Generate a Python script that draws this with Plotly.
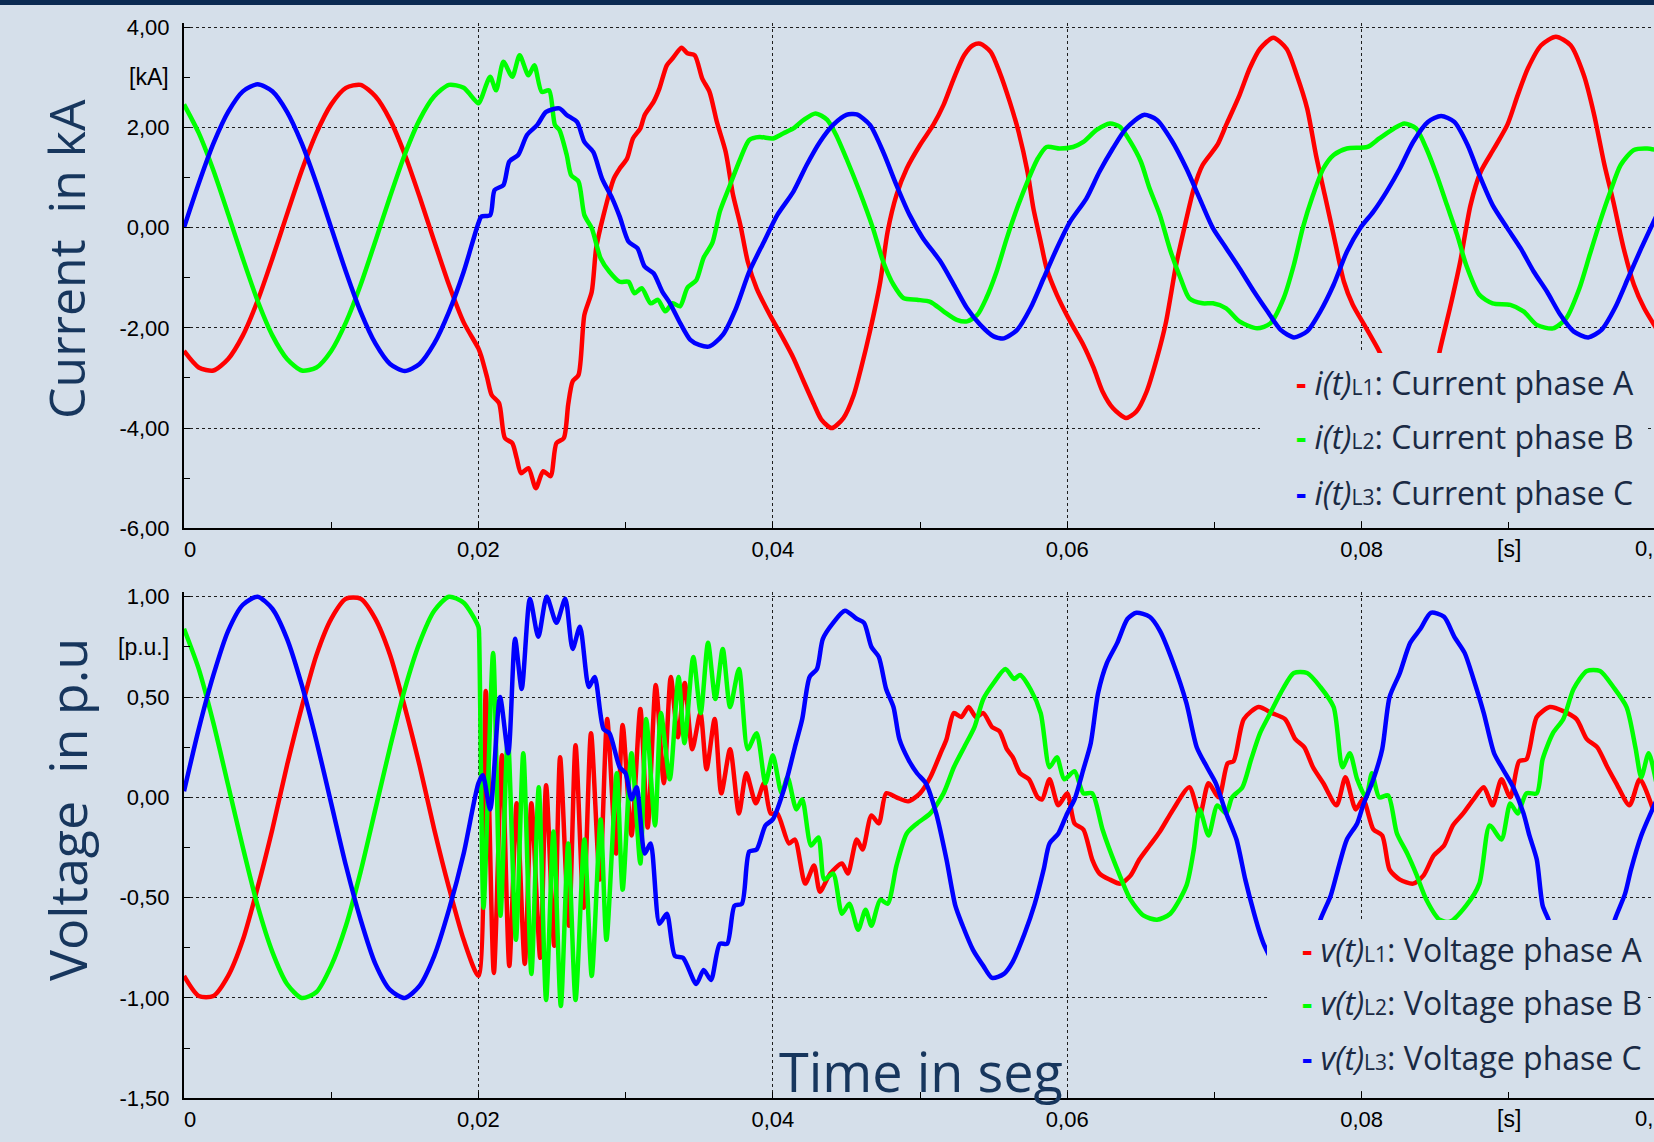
import plotly.graph_objects as go

# ---------------- DATA (time in ms) ----------------
PRE_T = [0, 1, 2, 3, 4, 5, 6, 7, 8, 9, 10, 11, 12, 13, 14, 15, 16, 17, 18, 19]

# Currents [kA]
IA_T = PRE_T + [20.0, 20.2, 20.6, 20.9, 21.4, 21.8, 22.3, 22.6, 22.9, 23.4,
                23.9, 24.4, 24.9, 25.3, 25.8, 26.1, 26.4, 26.8, 27.2, 27.7,
                28.0, 28.5, 29.2, 29.6, 30.1, 30.5, 31.0, 31.3, 31.9, 32.3,
                32.8, 33.2, 33.8, 34.2, 34.7, 35.2, 35.7, 36.2, 36.8, 37.3,
                37.8, 38.3, 38.9, 39.8,
                40.7, 41.4, 42.1, 42.8, 43.3, 44.0, 44.8, 45.5, 46.0, 46.6,
                47.3, 47.8, 48.4, 49.1, 50.0, 50.9, 51.6, 52.3, 53.0, 53.6,
                54.1, 54.8, 55.4, 56.1, 56.7, 57.3, 57.7, 58.2, 58.6, 59.3,
                60.2, 61.1, 61.8, 62.4, 63.1, 64.0, 64.7, 65.4, 66.1, 66.7,
                67.4, 68.0, 68.6, 69.2, 70.2, 70.8, 71.7, 72.4, 73.1, 74.0,
                74.9, 75.6, 76.3, 76.9, 77.5, 78.1, 78.8, 79.4,
                80.3, 81.2, 82.0, 83.0, 84.0, 84.7, 85.3, 86.0, 86.7, 87.4,
                88.1, 89.0, 89.9, 90.6, 91.3, 92.2, 93.2, 94.2, 95.1, 95.8,
                96.5, 97.1, 97.8, 98.5, 99.2, 100.0]
IA_V = [-2.46, -2.79, -2.85, -2.62, -2.15, -1.46, -0.62, 0.27, 1.14, 1.89,
        2.46, 2.79, 2.85, 2.62, 2.15, 1.46, 0.62, -0.27, -1.14, -1.89,
        -2.41, -2.57, -3.0, -3.34, -3.50, -4.2, -4.3, -4.6, -4.9, -4.8,
        -5.2, -4.86, -4.96, -4.3, -4.2, -3.53, -3.07, -2.94, -1.74, -1.28,
        -0.41, 0.25, 0.98, 1.18, 1.38, 1.78, 1.98, 2.25, 2.51, 2.78,
        3.24, 3.38, 3.59, 3.48, 3.44, 2.98, 2.71, 2.11, 1.51, 0.65,
        0.05, -0.68, -1.21, -1.74,
        -2.21, -2.60, -3.07, -3.53, -3.83, -4.0, -3.80, -3.34, -2.80, -2.07,
        -1.08, -0.08, 0.65, 1.18, 1.65, 2.05, 2.45, 2.98, 3.44, 3.64,
        3.67, 3.51, 3.11, 2.51, 1.91, 1.12, 0.39, -0.28, -0.81, -1.34,
        -1.87, -2.34, -2.80, -3.27, -3.60, -3.80, -3.67, -3.27, -2.6, -1.9,
        -0.74, 0.05, 0.78, 1.25, 1.65, 2.05, 2.64, 3.18, 3.57, 3.79,
        3.57, 3.04, 2.38, 1.45, 0.65, -0.15, -1.08, -1.54,
        -2.0, -2.47, -2.95, -3.55, -3.85, -3.4, -2.47, -1.61, -0.68, 0.45,
        1.12, 1.58, 2.05, 2.64, 3.18, 3.64, 3.81, 3.64, 3.04, 2.25,
        1.25, 0.52, -0.41, -1.14, -1.61, -2.0]

IB_T = PRE_T + [20.0, 20.2, 20.8, 21.2, 21.7, 22.3, 22.8, 23.4, 23.8, 24.3,
                24.8, 25.2, 25.5, 26.0, 26.3, 26.8, 27.2, 27.7, 28.3, 28.9,
                29.6, 30.2, 30.6, 31.1, 31.7, 32.2, 32.7, 33.2, 33.7, 34.2,
                34.8, 35.3, 35.9, 36.4, 37.0, 37.8, 38.4, 39.1,
                40.0, 40.7, 41.4, 42.1, 42.9, 43.7, 44.3, 45.0, 45.9, 46.8,
                47.5, 48.2, 48.9, 49.8, 50.7, 51.6, 52.5, 53.2, 53.9, 54.5,
                55.2, 55.9, 56.6, 57.3, 58.0, 58.6, 59.5,
                60.4, 61.1, 62.0, 62.9, 63.6, 64.3, 65.0, 65.6, 66.3, 67.0,
                67.7, 68.3, 69.2, 69.9, 70.8, 71.7, 72.9, 73.8, 74.7, 75.4,
                76.0, 76.7, 77.4, 78.1, 79.0,
                80.4, 81.2, 82.2, 82.9, 83.7, 84.4, 85.1, 85.8, 86.5, 87.1,
                88.0, 88.9, 90.1, 91.0, 91.9, 93.0, 93.9, 94.8, 95.5, 96.2,
                96.9, 97.6, 98.5, 99.4, 100.0]
IB_V = [2.46, 1.89, 1.14, 0.27, -0.62, -1.46, -2.15, -2.62, -2.85, -2.79,
        -2.46, -1.89, -1.14, -0.27, 0.62, 1.46, 2.15, 2.62, 2.85, 2.79,
        2.48, 2.58, 3.01, 2.74, 3.31, 3.01, 3.44, 3.04, 3.24, 2.71,
        2.74, 2.05, 1.95, 1.45, 1.05, 0.92, 0.25, -0.01, -0.61, -0.88,
        -1.08, -1.08, -1.31, -1.21, -1.51, -1.44, -1.67, -1.51, -1.57, -1.2,
        -1.05, -0.6, -0.3, 0.32, 0.78, 1.38, 1.75, 1.81,
        1.78, 1.88, 1.98, 2.15, 2.28, 2.15, 1.85, 1.38, 0.72, -0.01,
        -0.68, -1.14, -1.41, -1.44, -1.48, -1.67, -1.84, -1.87, -1.74, -1.41,
        -0.88, -0.21, 0.39, 0.92, 1.38, 1.61, 1.58,
        1.61, 1.71, 1.95, 2.08, 2.01, 1.71, 1.32, 0.78, 0.25, -0.45,
        -1.01, -1.41, -1.51, -1.51, -1.61, -1.87, -2.01, -1.91, -1.41, -0.74,
        -0.01, 0.65, 1.18, 1.45, 1.58,
        1.61, 1.78, 1.98, 2.08, 1.98, 1.58, 1.05, 0.45, -0.15, -0.74,
        -1.34, -1.51, -1.54, -1.67, -1.94, -2.01, -1.81, -1.21, -0.54, 0.12,
        0.72, 1.25, 1.55, 1.58, 1.55]

IC_T = PRE_T + [20.0, 20.2, 20.8, 21.1, 21.7, 22.1, 22.7, 23.3, 24.0, 24.6,
                25.5, 26.0, 26.7, 27.2, 27.8, 28.4, 29.1, 29.6, 30.2, 30.8,
                31.3, 31.9, 32.5, 33.0, 33.7, 34.4, 35.0, 35.7, 36.6, 37.5,
                38.4, 39.4,
                40.3, 41.4, 42.3, 43.2, 44.1, 45.0, 45.7, 46.6, 47.5, 48.4,
                49.3, 50.2, 51.4, 52.3, 53.2, 54.1, 55.0, 55.7, 56.6, 57.5,
                58.4, 59.3,
                60.2, 61.3, 62.2, 63.1, 64.0, 65.2, 66.1, 67.1, 68.1, 69.0,
                69.9, 70.8, 71.7, 72.7, 73.6, 74.5, 75.4, 76.3, 77.2, 78.1,
                79.0, 79.9,
                80.8, 81.7, 82.6, 83.5, 84.5, 85.4, 86.3, 87.2, 88.0, 88.9,
                89.9, 90.8, 91.7, 92.6, 93.5, 94.4, 95.4, 96.3, 97.2, 98.1,
                99.0, 100.0]
IC_V = [0.0, 0.88, 1.68, 2.31, 2.72, 2.86, 2.72, 2.31, 1.68, 0.88,
        0.0, -0.88, -1.68, -2.31, -2.72, -2.86, -2.72, -2.31, -1.68, -0.88,
        0.09, 0.22, 0.25, 0.75, 0.85, 1.32, 1.45, 1.85, 2.05, 2.31,
        2.38, 2.25, 2.11, 1.71, 1.51, 0.98, 0.58, 0.22, -0.28, -0.41,
        -0.78, -0.91, -1.28, -1.5, -1.9, -2.24, -2.34, -2.37, -2.14, -1.61,
        -0.88, -0.28,
        0.25, 0.72, 1.25, 1.71, 2.05, 2.25, 2.26, 2.05, 1.51, 0.85,
        0.25, -0.21, -0.68, -1.14, -1.61, -1.94, -2.17, -2.21, -2.04, -1.61,
        -1.01, -0.41,
        0.12, 0.58, 1.12, 1.58, 1.98, 2.25, 2.15, 1.74, 1.18, 0.58,
        -0.01, -0.41, -0.81, -1.28, -1.67, -2.04, -2.19, -2.07, -1.67, -1.14,
        -0.48, -0.01,
        0.32, 0.72, 1.18, 1.71, 2.11, 2.23, 2.11, 1.65, 1.05, 0.45,
        -0.01, -0.41, -0.88, -1.28, -1.74, -2.07, -2.19, -2.04, -1.61, -1.01,
        -0.41, 0.22]

# Voltages [p.u.]
VA_T = PRE_T + [20.0, 20.5, 21.05, 21.6, 22.1, 22.6, 23.15, 23.6, 24.2, 24.6,
                25.15, 25.55, 26.15, 26.6, 27.15, 27.65, 28.25, 28.75, 29.35, 29.8,
                30.4, 31.0, 31.5, 32.05, 32.6, 33.07, 33.55, 34.02, 34.53, 35.08,
                35.5, 36.05, 36.5, 37.1, 37.7, 38.2, 38.85, 39.4, 39.85,
                40.3, 41.1, 41.5, 42.2, 42.8, 43.2, 43.9, 44.7, 45.1, 45.7,
                46.1, 46.7, 47.2, 47.7, 48.4, 49.2, 50.0, 50.7, 51.4, 51.8,
                52.3, 52.8, 53.3, 53.8, 54.3, 54.9, 55.4, 55.9, 56.3, 56.8,
                57.4, 58.0, 58.3, 58.8, 59.4,
                60.0, 60.5, 61.1, 61.7, 62.2, 62.9, 63.6, 64.3, 64.9, 65.6,
                66.3, 67.2, 68.3, 69.0, 69.6, 70.3, 70.9, 71.3, 72.0, 73.0,
                73.9, 74.8, 75.5, 76.1, 76.7, 77.4, 78.3, 78.9, 79.6,
                80.1, 80.8, 81.4, 81.9, 82.6, 83.5, 84.2, 84.9, 85.6, 86.2,
                86.9, 87.6, 88.3, 88.9, 89.5, 90.1, 90.7, 91.2, 91.9, 92.8,
                93.7, 94.6, 95.3, 96.0, 96.7, 97.3, 98.2, 98.9, 99.8]
VA_V = [-0.89, -0.99, -0.99, -0.89, -0.71, -0.45, -0.16, 0.16, 0.45, 0.71,
        0.89, 0.99, 0.99, 0.89, 0.71, 0.45, 0.16, -0.16, -0.45, -0.71,
        -0.89, 0.53, -0.875, 0.21, -0.84, -0.03, -0.83, -0.03, -0.8, 0.06,
        -0.74, 0.2, -0.64, 0.26, -0.55, 0.32, -0.41, 0.39, -0.28, 0.36,
        -0.19, 0.44, -0.15, 0.56, 0.07, 0.6, 0.3, 0.57, 0.24, 0.42,
        0.14, 0.39, 0.02, 0.24, -0.08, 0.12, -0.03, 0.07, -0.08,
        -0.08, -0.23, -0.21, -0.43, -0.34, -0.47, -0.38, -0.33, -0.38, -0.21,
        -0.26, -0.09, -0.13, 0.02, 0.0, -0.02, 0.02, 0.10, 0.22, 0.29,
        0.42, 0.40, 0.45, 0.40, 0.42, 0.35, 0.33, 0.24, 0.20, 0.12,
        0.09, 0.0, -0.01, 0.09, -0.04,
        0.02, -0.13, -0.16, -0.31, -0.38, -0.41, -0.43, -0.39, -0.31, -0.24,
        -0.17, -0.06, 0.05, -0.09, 0.07, 0.0, 0.17, 0.18, 0.39, 0.45,
        0.42, 0.39, 0.29, 0.25, 0.15, 0.07, -0.04, 0.10, -0.06,
        -0.01, -0.16, -0.19, -0.36, -0.41, -0.43, -0.39, -0.29, -0.24, -0.14,
        -0.08, -0.01, 0.05, -0.04, 0.09, 0.0, 0.18, 0.19, 0.40, 0.45,
        0.43, 0.39, 0.29, 0.25, 0.15, 0.07, -0.04, 0.09, -0.06]

VB_T = PRE_T + [20.0, 20.05, 20.35, 21.0, 21.5, 22.0, 22.55, 23.05, 23.6, 24.1,
                24.6, 25.1, 25.6, 26.1, 26.6, 27.2, 27.7, 28.3, 28.7, 29.4,
                29.8, 30.4, 31.0, 31.4, 32.0, 32.4, 33.0, 33.6, 34.0, 34.6,
                35.1, 35.6, 36.1, 36.6, 37.1, 37.7, 38.3, 38.9, 39.5,
                40.0, 40.6, 41.0, 41.6, 42.0, 42.6, 43.1, 43.5, 44.1, 44.7,
                45.2, 45.8, 46.3, 46.7, 47.3, 47.8, 48.4, 49.1, 49.8, 50.7,
                51.6, 52.3, 53.0, 53.7, 54.3, 55.0, 55.8, 56.4, 56.8, 57.5,
                58.2, 58.8, 59.3, 59.8,
                60.5, 61.1, 61.7, 62.4, 63.3, 64.3, 65.2, 66.1, 67.0, 68.1,
                68.6, 69.0, 69.6, 70.2, 70.8, 71.2, 71.9, 72.5, 73.1, 73.8,
                74.5, 75.4, 76.3, 77.2, 78.1, 78.7, 79.2, 79.7,
                80.3, 80.7, 81.2, 81.8, 82.4, 83.1, 83.7, 84.4, 85.3, 86.0,
                87.1, 88.0, 88.7, 89.5, 90.1, 90.6, 91.2, 91.9, 92.3, 93.0,
                93.7, 94.4, 95.3, 96.2, 97.1, 98.0, 98.6, 99.0, 99.5, 100.0]
VB_V = [0.84, 0.64, 0.37, 0.06, -0.25, -0.54, -0.77, -0.93, -1.0, -0.97,
        -0.84, -0.64, -0.37, -0.06, 0.25, 0.54, 0.77, 0.93, 1.0, 0.97,
        0.85, 0.80, -0.55, 0.72, -0.59, 0.30, -0.71, 0.22, -0.88, 0.05,
        -1.01, -0.17, -1.04, -0.23, -1.01, -0.21, -0.89, -0.11, -0.71, 0.12,
        -0.46, 0.22, -0.33, 0.39, -0.14, 0.42, 0.09, 0.60, 0.27, 0.70,
        0.42, 0.77, 0.49, 0.74, 0.45, 0.64, 0.24, 0.32, 0.07,
        0.21, 0.02, 0.10, -0.06, -0.01, -0.24, -0.20, -0.41, -0.38, -0.58,
        -0.53, -0.66, -0.56, -0.64, -0.51, -0.53, -0.34, -0.18, -0.13, -0.08,
        0.02, 0.15, 0.25, 0.35, 0.49, 0.57, 0.64, 0.59, 0.61, 0.54,
        0.42, 0.15, 0.20, 0.09,
        0.13, 0.02, 0.02, -0.16, -0.34, -0.51, -0.59, -0.61, -0.58, -0.44,
        -0.26, -0.06, -0.19, -0.04, -0.08, 0.0, 0.05, 0.19, 0.32, 0.42,
        0.52, 0.62, 0.62, 0.55, 0.45, 0.15, 0.22, 0.09,
        0.0, 0.12, 0.0, 0.01, -0.18, -0.28, -0.38, -0.51, -0.61, -0.62,
        -0.54, -0.43, -0.14, -0.21, -0.03, -0.08, 0.02, 0.02, 0.19, 0.32,
        0.39, 0.54, 0.63, 0.63, 0.55, 0.45, 0.25, 0.10, 0.22, 0.08]

VC_T = PRE_T + [20.0, 20.3, 20.8, 21.47, 22.03, 22.49, 22.94, 23.5, 24.07, 24.64,
                25.3, 25.9, 26.4, 26.9, 27.5, 27.9, 28.5, 28.9, 29.6, 30.0,
                30.4, 30.75, 31.3, 31.7, 32.3, 32.8, 33.35, 33.9, 34.8, 35.3,
                35.8, 36.4, 36.9, 37.4, 37.9, 38.4, 38.9, 39.5,
                40.0, 40.8, 41.5, 42.0, 42.5, 43.0, 43.4, 44.1, 44.9, 45.7,
                46.2, 46.7, 47.2, 47.7, 48.2, 48.6, 49.2, 49.8, 50.4, 51.1,
                51.8, 52.4, 52.9, 53.6, 54.3, 54.9, 55.7, 56.3, 57.1, 57.8,
                58.4, 58.8, 59.4,
                60.0, 60.5, 61.1, 61.6, 62.1, 62.7, 63.4, 64.1, 64.7, 65.6,
                66.3, 67.2, 68.1, 68.8, 69.5, 70.1, 70.8, 71.5, 72.1, 72.7,
                73.1, 73.4, 74.5, 75.5, 76.4, 77.2, 77.9, 78.5, 79.0, 79.7,
                80.1, 80.8, 81.4, 81.9, 82.6, 83.3, 84.0, 84.7, 85.6, 86.3,
                87.0, 87.6, 88.3, 89.0, 89.6, 90.3, 91.0, 91.4, 91.9, 92.3,
                92.7, 93.5, 94.5, 95.5, 96.4, 97.2, 97.9, 98.3, 99.0, 100.0]
VC_V = [0.03, 0.34, 0.61, 0.83, 0.96, 1.0, 0.94, 0.79, 0.56, 0.28,
        -0.03, -0.34, -0.61, -0.83, -0.96, -1.0, -0.94, -0.79, -0.56, -0.28,
        0.07, 0.11, -0.06, 0.50, 0.22, 0.79, 0.54, 0.99, 0.80, 1.0,
        0.87, 0.99, 0.74, 0.85, 0.55, 0.60, 0.34, 0.32, 0.15, 0.12,
        -0.01, 0.05, -0.28, -0.23, -0.63, -0.58, -0.79, -0.80, -0.93, -0.86,
        -0.91, -0.73, -0.73, -0.54, -0.53, -0.27, -0.26, -0.14,
        -0.11, 0.05, 0.25, 0.39, 0.60, 0.64, 0.79, 0.87, 0.93, 0.89,
        0.87, 0.75, 0.70, 0.54, 0.45, 0.29, 0.19, 0.12, 0.07, -0.08,
        -0.31, -0.54, -0.64, -0.76, -0.84, -0.90, -0.88, -0.82, -0.68, -0.53,
        -0.36, -0.23, -0.18,
        -0.08, -0.01, 0.14, 0.27, 0.52, 0.67, 0.77, 0.89, 0.92, 0.90,
        0.83, 0.67, 0.47, 0.25, 0.15, 0.07, -0.08, -0.21, -0.41, -0.58,
        -0.68, -0.74, -0.88, -0.91, -0.82, -0.61, -0.49, -0.33, -0.21, -0.13,
        -0.04, 0.09, 0.24, 0.50, 0.62, 0.77, 0.84, 0.92, 0.90, 0.80,
        0.72, 0.59, 0.42, 0.22, 0.14, 0.05, -0.08, -0.19, -0.31, -0.54,
        -0.61, -0.78, -0.88, -0.91, -0.82, -0.61, -0.48, -0.36, -0.19, -0.02]

X_TICKS = [0, 0.02, 0.04, 0.06, 0.08]
X_TICK_TEXT = ["\u20070", "0,02", "0,04", "0,06", "0,08"]
I_TICKS = [-6, -4, -2, 0, 2, 4]
I_TICK_TEXT = ["-6,00", "-4,00", "-2,00", "0,00", "2,00", "4,00"]
V_TICKS = [-1.5, -1.0, -0.5, 0.0, 0.5, 1.0]
V_TICK_TEXT = ["-1,50", "-1,00", "-0,50", "0,00", "0,50", "1,00"]

I_LEGEND = ['<span style="color:#ff0000"><b>-</b></span> <i>i(t)</i><span style="font-size:21px">L1</span>: Current phase A',
            '<span style="color:#00ff00"><b>-</b></span> <i>i(t)</i><span style="font-size:21px">L2</span>: Current phase B',
            '<span style="color:#0000ff"><b>-</b></span> <i>i(t)</i><span style="font-size:21px">L3</span>: Current phase C']
V_LEGEND = ['<span style="color:#ff0000"><b>-</b></span> <i>v(t)</i><span style="font-size:21px">L1</span>: Voltage phase A',
            '<span style="color:#00ff00"><b>-</b></span> <i>v(t)</i><span style="font-size:21px">L2</span>: Voltage phase B',
            '<span style="color:#0000ff"><b>-</b></span> <i>v(t)</i><span style="font-size:21px">L3</span>: Voltage phase C']

# ---------------- FIGURE ----------------
BG = "#d5dfea"
NAVY = "#17365d"
TXT = "#1a2a44"
W, H = 1654, 1142
L = 184

fig = go.Figure()


def add(t, v, color, xa, ya):
    fig.add_trace(go.Scatter(x=[a / 1000.0 for a in t], y=v, mode="lines",
                             line=dict(color=color, width=4.5, shape="spline", smoothing=0.7),
                             xaxis=xa, yaxis=ya, showlegend=False, hoverinfo="skip"))


add(IA_T, IA_V, "#ff0000", "x", "y")
add(IB_T, IB_V, "#00ff00", "x", "y")
add(IC_T, IC_V, "#0000ff", "x", "y")
add(VA_T, VA_V, "#ff0000", "x2", "y2")
add(VB_T, VB_V, "#00ff00", "x2", "y2")
add(VC_T, VC_V, "#0000ff", "x2", "y2")


def py(Y):
    return (H - Y) / H


def px(X):
    return (X - L) / (W - L)


tick_font = dict(family="Liberation Sans, Arial, sans-serif", size=22, color="black")
unit_font = dict(family="Liberation Sans, Arial, sans-serif", size=23, color="black")
common = dict(showline=True, linecolor="black", linewidth=2, ticks="inside", ticklen=6,
              tickwidth=1, tickcolor="black", zeroline=False, showgrid=True,
              gridcolor="#1e1e1e", gridwidth=1, griddash="3px,3px",
              tickfont=tick_font, fixedrange=True)

XR = [0, (W - L) / 14720.0]
xminor = dict(tickmode="linear", tick0=0, dtick=0.01, ticks="inside", ticklen=6,
              tickcolor="black", showgrid=False)
fig.update_layout(
    width=W, height=H,
    margin=dict(l=L, r=0, t=0, b=0, autoexpand=False),
    paper_bgcolor=BG, plot_bgcolor=BG,
    xaxis=dict(common, range=XR, anchor="y", domain=[0, 1], tickmode="array",
               tickvals=X_TICKS, ticktext=X_TICK_TEXT, ticklabelstandoff=0, minor=xminor),
    yaxis=dict(common, range=[-6, 4.09], anchor="x", domain=[py(528.3), py(22.7)],
               tickmode="array", tickvals=I_TICKS, ticktext=I_TICK_TEXT, ticklabelstandoff=8,
               minor=dict(tickmode="linear", tick0=0, dtick=1, ticks="inside", ticklen=6,
                          tickcolor="black", showgrid=False)),
    xaxis2=dict(common, range=XR, anchor="y2", domain=[0, 1], tickmode="array",
                tickvals=X_TICKS, ticktext=X_TICK_TEXT, ticklabelstandoff=0, minor=xminor),
    yaxis2=dict(common, range=[-1.5, 1.025], anchor="x2", domain=[py(1098.3), py(591.7)],
                tickmode="array", tickvals=V_TICKS, ticktext=V_TICK_TEXT, ticklabelstandoff=8,
                minor=dict(tickmode="linear", tick0=0, dtick=0.25, ticks="inside", ticklen=6,
                           tickcolor="black", showgrid=False)),
)

shapes = [
    dict(type="rect", xref="paper", yref="paper", x0=-0.2, x1=1.1, y0=py(5), y1=1.05,
         fillcolor="#0b2a52", line=dict(width=0), layer="above"),
    dict(type="rect", xref="paper", yref="paper", x0=px(1260), x1=px(1648), y0=py(521), y1=py(353),
         fillcolor=BG, line=dict(width=0), layer="above"),
    dict(type="rect", xref="paper", yref="paper", x0=px(1267), x1=px(1648), y0=py(1091), y1=py(920),
         fillcolor=BG, line=dict(width=0), layer="above"),
]

ann = []
# big axis titles
ann.append(dict(text="Current\u00a0 in kA", x=px(66), y=py(259), xref="paper", yref="paper",
                textangle=-90, showarrow=False, xanchor="center", yanchor="middle",
                font=dict(family="Open Sans", size=50, color=NAVY)))
ann.append(dict(text="Voltage\u00a0 in p.u", x=px(66), y=py(810), xref="paper", yref="paper",
                textangle=-90, showarrow=False, xanchor="center", yanchor="middle",
                font=dict(family="Open Sans", size=52, color=NAVY)))
ann.append(dict(text="Time in seg", x=px(921), y=py(1071), xref="paper", yref="paper",
                showarrow=False, xanchor="center", yanchor="middle",
                font=dict(family="Open Sans", size=54, color=NAVY)))
# unit labels on the axes
ann.append(dict(text="[kA]", x=0, y=3, xref="paper", yref="y", xanchor="right", yanchor="middle",
                xshift=-13, showarrow=False, font=unit_font))
ann.append(dict(text="[p.u.]", x=0, y=0.75, xref="paper", yref="y2", xanchor="right", yanchor="middle",
                xshift=-13, showarrow=False, font=unit_font))
for xa, Yax in (("x", 528.3), ("x2", 1098.3)):
    ann.append(dict(text="[s]", x=0.09, y=py(Yax), xref=xa, yref="paper", xanchor="center", yanchor="top",
                    yshift=-6, showarrow=False, font=unit_font))
    ann.append(dict(text="0,1", x=px(1650), y=py(Yax), xref="paper", yref="paper", xanchor="center",
                    yanchor="top", yshift=-6, showarrow=False, font=tick_font))
# legends
for txt, Y in zip(I_LEGEND, (383, 437, 492)):
    ann.append(dict(text=txt, x=px(1294), y=py(Y), xref="paper", yref="paper", xanchor="left",
                    yanchor="middle", showarrow=False, font=dict(family="Open Sans", size=32, color=TXT)))
for txt, Y in zip(V_LEGEND, (949.5, 1002.5, 1057.5)):
    ann.append(dict(text=txt, x=px(1300), y=py(Y), xref="paper", yref="paper", xanchor="left",
                    yanchor="middle", showarrow=False, font=dict(family="Open Sans", size=32, color=TXT)))

fig.update_layout(shapes=shapes, annotations=ann)

fig.write_html("out.html", post_script="document.body.style.margin='0px';")
